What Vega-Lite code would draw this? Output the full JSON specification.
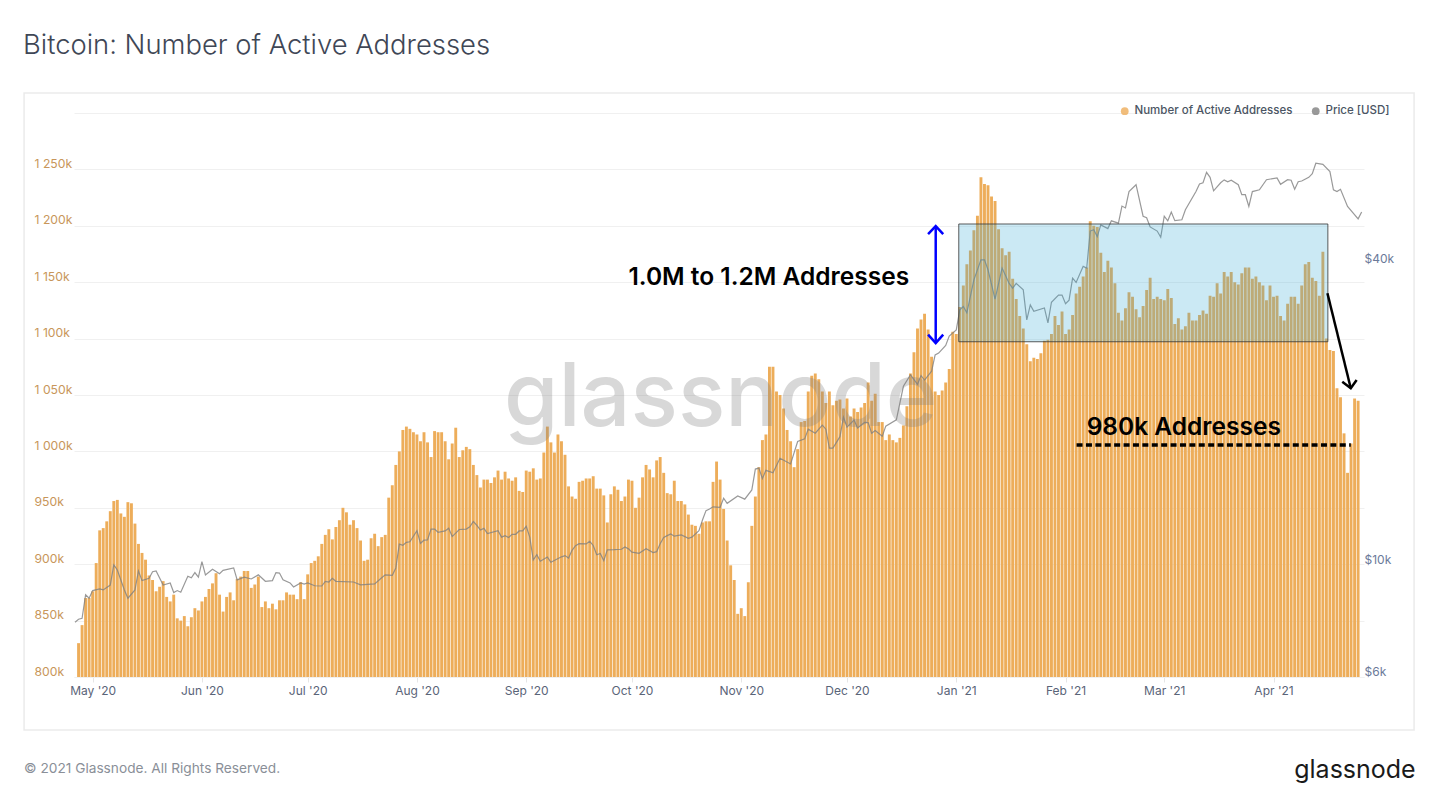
{
  "$schema": "https://vega.github.io/schema/vega-lite/v6.json",
  "width": 1290,
  "height": 564,
  "autosize": "none",
  "padding": {"left": 74, "top": 113, "right": 76, "bottom": 130},
  "background": "white",
  "title": {
    "text": "Bitcoin: Number of Active Addresses",
    "anchor": "start",
    "frame": "group",
    "font": "Inter",
    "fontSize": 27.4,
    "fontWeight": 300,
    "color": "#3f4756",
    "dx": -51,
    "offset": 33
  },
  "config": {"font": "Inter", "view": {"stroke": null}, "title": {"baseline": "alphabetic"}},
  "datasets": {
    "addresses": [
      {"date":"2020-04-27","n":830000},{"date":"2020-04-28","n":846000},{"date":"2020-04-29","n":870000},{"date":"2020-04-30","n":870000},
      {"date":"2020-05-01","n":876000},{"date":"2020-05-02","n":901000},{"date":"2020-05-03","n":930000},{"date":"2020-05-04","n":932000},{"date":"2020-05-05","n":938000},{"date":"2020-05-06","n":947000},{"date":"2020-05-07","n":956000},{"date":"2020-05-08","n":957000},{"date":"2020-05-09","n":945000},{"date":"2020-05-10","n":942000},{"date":"2020-05-11","n":955000},{"date":"2020-05-12","n":954000},{"date":"2020-05-13","n":936000},{"date":"2020-05-14","n":918000},{"date":"2020-05-15","n":910000},{"date":"2020-05-16","n":904000},{"date":"2020-05-17","n":890000},{"date":"2020-05-18","n":886000},{"date":"2020-05-19","n":876000},{"date":"2020-05-20","n":880000},{"date":"2020-05-21","n":885000},{"date":"2020-05-22","n":871000},{"date":"2020-05-23","n":867000},{"date":"2020-05-24","n":873000},{"date":"2020-05-25","n":852000},{"date":"2020-05-26","n":850000},{"date":"2020-05-27","n":854000},{"date":"2020-05-28","n":845000},{"date":"2020-05-29","n":853000},{"date":"2020-05-30","n":861000},{"date":"2020-05-31","n":859000},
      {"date":"2020-06-01","n":867000},{"date":"2020-06-02","n":871000},{"date":"2020-06-03","n":878000},{"date":"2020-06-04","n":883000},{"date":"2020-06-05","n":892000},{"date":"2020-06-06","n":873000},{"date":"2020-06-07","n":858000},{"date":"2020-06-08","n":871000},{"date":"2020-06-09","n":875000},{"date":"2020-06-10","n":868000},{"date":"2020-06-11","n":887000},{"date":"2020-06-12","n":889000},{"date":"2020-06-13","n":894000},{"date":"2020-06-14","n":894000},{"date":"2020-06-15","n":879000},{"date":"2020-06-16","n":882000},{"date":"2020-06-17","n":889000},{"date":"2020-06-18","n":862000},{"date":"2020-06-19","n":867000},{"date":"2020-06-20","n":861000},{"date":"2020-06-21","n":865000},{"date":"2020-06-22","n":860000},{"date":"2020-06-23","n":868000},{"date":"2020-06-24","n":868000},{"date":"2020-06-25","n":875000},{"date":"2020-06-26","n":873000},{"date":"2020-06-27","n":873000},{"date":"2020-06-28","n":869000},{"date":"2020-06-29","n":884000},{"date":"2020-06-30","n":869000},
      {"date":"2020-07-01","n":891000},{"date":"2020-07-02","n":901000},{"date":"2020-07-03","n":903000},{"date":"2020-07-04","n":907000},{"date":"2020-07-05","n":918000},{"date":"2020-07-06","n":926000},{"date":"2020-07-07","n":931000},{"date":"2020-07-08","n":922000},{"date":"2020-07-09","n":933000},{"date":"2020-07-10","n":939000},{"date":"2020-07-11","n":950000},{"date":"2020-07-12","n":946000},{"date":"2020-07-13","n":935000},{"date":"2020-07-14","n":939000},{"date":"2020-07-15","n":932000},{"date":"2020-07-16","n":921000},{"date":"2020-07-17","n":903000},{"date":"2020-07-18","n":904000},{"date":"2020-07-19","n":923000},{"date":"2020-07-20","n":927000},{"date":"2020-07-21","n":916000},{"date":"2020-07-22","n":924000},{"date":"2020-07-23","n":926000},{"date":"2020-07-24","n":959000},{"date":"2020-07-25","n":970000},{"date":"2020-07-26","n":988000},{"date":"2020-07-27","n":1000000},{"date":"2020-07-28","n":1019000},{"date":"2020-07-29","n":1022000},{"date":"2020-07-30","n":1020000},{"date":"2020-07-31","n":1017000},
      {"date":"2020-08-01","n":1015000},{"date":"2020-08-02","n":1009000},{"date":"2020-08-03","n":1017000},{"date":"2020-08-04","n":1008000},{"date":"2020-08-05","n":995000},{"date":"2020-08-06","n":1018000},{"date":"2020-08-07","n":1017000},{"date":"2020-08-08","n":1017000},{"date":"2020-08-09","n":1009000},{"date":"2020-08-10","n":993000},{"date":"2020-08-11","n":1007000},{"date":"2020-08-12","n":1021000},{"date":"2020-08-13","n":995000},{"date":"2020-08-14","n":1001000},{"date":"2020-08-15","n":1004000},{"date":"2020-08-16","n":1002000},{"date":"2020-08-17","n":988000},{"date":"2020-08-18","n":979000},{"date":"2020-08-19","n":968000},{"date":"2020-08-20","n":975000},{"date":"2020-08-21","n":975000},{"date":"2020-08-22","n":972000},{"date":"2020-08-23","n":977000},{"date":"2020-08-24","n":983000},{"date":"2020-08-25","n":975000},{"date":"2020-08-26","n":982000},{"date":"2020-08-27","n":976000},{"date":"2020-08-28","n":974000},{"date":"2020-08-29","n":977000},{"date":"2020-08-30","n":965000},{"date":"2020-08-31","n":964000},
      {"date":"2020-09-01","n":983000},{"date":"2020-09-02","n":982000},{"date":"2020-09-03","n":985000},{"date":"2020-09-04","n":975000},{"date":"2020-09-05","n":976000},{"date":"2020-09-06","n":999000},{"date":"2020-09-07","n":1022000},{"date":"2020-09-08","n":1008000},{"date":"2020-09-09","n":999000},{"date":"2020-09-10","n":1015000},{"date":"2020-09-11","n":1009000},{"date":"2020-09-12","n":997000},{"date":"2020-09-13","n":969000},{"date":"2020-09-14","n":960000},{"date":"2020-09-15","n":958000},{"date":"2020-09-16","n":973000},{"date":"2020-09-17","n":974000},{"date":"2020-09-18","n":976000},{"date":"2020-09-19","n":976000},{"date":"2020-09-20","n":978000},{"date":"2020-09-21","n":967000},{"date":"2020-09-22","n":967000},{"date":"2020-09-23","n":961000},{"date":"2020-09-24","n":937000},{"date":"2020-09-25","n":962000},{"date":"2020-09-26","n":969000},{"date":"2020-09-27","n":966000},{"date":"2020-09-28","n":956000},{"date":"2020-09-29","n":960000},{"date":"2020-09-30","n":975000},
      {"date":"2020-10-01","n":974000},{"date":"2020-10-02","n":950000},{"date":"2020-10-03","n":959000},{"date":"2020-10-04","n":977000},{"date":"2020-10-05","n":988000},{"date":"2020-10-06","n":984000},{"date":"2020-10-07","n":977000},{"date":"2020-10-08","n":992000},{"date":"2020-10-09","n":995000},{"date":"2020-10-10","n":981000},{"date":"2020-10-11","n":963000},{"date":"2020-10-12","n":962000},{"date":"2020-10-13","n":974000},{"date":"2020-10-14","n":956000},{"date":"2020-10-15","n":956000},{"date":"2020-10-16","n":953000},{"date":"2020-10-17","n":944000},{"date":"2020-10-18","n":935000},{"date":"2020-10-19","n":934000},{"date":"2020-10-20","n":927000},{"date":"2020-10-21","n":937000},{"date":"2020-10-22","n":938000},{"date":"2020-10-23","n":938000},{"date":"2020-10-24","n":973000},{"date":"2020-10-25","n":991000},{"date":"2020-10-26","n":975000},{"date":"2020-10-27","n":949000},{"date":"2020-10-28","n":921000},{"date":"2020-10-29","n":899000},{"date":"2020-10-30","n":886000},{"date":"2020-10-31","n":856000},
      {"date":"2020-11-01","n":861000},{"date":"2020-11-02","n":854000},{"date":"2020-11-03","n":884000},{"date":"2020-11-04","n":934000},{"date":"2020-11-05","n":960000},{"date":"2020-11-06","n":986000},{"date":"2020-11-07","n":1010000},{"date":"2020-11-08","n":1015000},{"date":"2020-11-09","n":1075000},{"date":"2020-11-10","n":1075000},{"date":"2020-11-11","n":1053000},{"date":"2020-11-12","n":1050000},{"date":"2020-11-13","n":1038000},{"date":"2020-11-14","n":1019000},{"date":"2020-11-15","n":1009000},{"date":"2020-11-16","n":986000},{"date":"2020-11-17","n":1002000},{"date":"2020-11-18","n":1026000},{"date":"2020-11-19","n":1027000},{"date":"2020-11-20","n":1053000},{"date":"2020-11-21","n":1067000},{"date":"2020-11-22","n":1069000},{"date":"2020-11-23","n":1064000},{"date":"2020-11-24","n":1053000},{"date":"2020-11-25","n":1043000},{"date":"2020-11-26","n":1053000},{"date":"2020-11-27","n":1041000},{"date":"2020-11-28","n":1045000},{"date":"2020-11-29","n":1046000},{"date":"2020-11-30","n":1038000},
      {"date":"2020-12-01","n":1047000},{"date":"2020-12-02","n":1031000},{"date":"2020-12-03","n":1038000},{"date":"2020-12-04","n":1035000},{"date":"2020-12-05","n":1039000},{"date":"2020-12-06","n":1043000},{"date":"2020-12-07","n":1061000},{"date":"2020-12-08","n":1045000},{"date":"2020-12-09","n":1051000},{"date":"2020-12-10","n":1026000},{"date":"2020-12-11","n":1026000},{"date":"2020-12-12","n":1010000},{"date":"2020-12-13","n":1015000},{"date":"2020-12-14","n":1010000},{"date":"2020-12-15","n":1008000},{"date":"2020-12-16","n":1012000},{"date":"2020-12-17","n":1023000},{"date":"2020-12-18","n":1040000},{"date":"2020-12-19","n":1069000},{"date":"2020-12-20","n":1088000},{"date":"2020-12-21","n":1109000},{"date":"2020-12-22","n":1117000},{"date":"2020-12-23","n":1122000},{"date":"2020-12-24","n":1108000},{"date":"2020-12-25","n":1084000},{"date":"2020-12-26","n":1053000},{"date":"2020-12-27","n":1050000},{"date":"2020-12-28","n":1054000},{"date":"2020-12-29","n":1061000},{"date":"2020-12-30","n":1073000},{"date":"2020-12-31","n":1106000},
      {"date":"2021-01-01","n":1104000},{"date":"2021-01-02","n":1128000},{"date":"2021-01-03","n":1147000},{"date":"2021-01-04","n":1166000},{"date":"2021-01-05","n":1178000},{"date":"2021-01-06","n":1196000},{"date":"2021-01-07","n":1209000},{"date":"2021-01-08","n":1243000},{"date":"2021-01-09","n":1237000},{"date":"2021-01-10","n":1236000},{"date":"2021-01-11","n":1226000},{"date":"2021-01-12","n":1222000},{"date":"2021-01-13","n":1197000},{"date":"2021-01-14","n":1180000},{"date":"2021-01-15","n":1174000},{"date":"2021-01-16","n":1177000},{"date":"2021-01-17","n":1153000},{"date":"2021-01-18","n":1135000},{"date":"2021-01-19","n":1120000},{"date":"2021-01-20","n":1109000},{"date":"2021-01-21","n":1095000},{"date":"2021-01-22","n":1080000},{"date":"2021-01-23","n":1083000},{"date":"2021-01-24","n":1082000},{"date":"2021-01-25","n":1087000},{"date":"2021-01-26","n":1098000},{"date":"2021-01-27","n":1099000},{"date":"2021-01-28","n":1104000},{"date":"2021-01-29","n":1120000},{"date":"2021-01-30","n":1112000},{"date":"2021-01-31","n":1124000},
      {"date":"2021-02-01","n":1104000},{"date":"2021-02-02","n":1108000},{"date":"2021-02-03","n":1121000},{"date":"2021-02-04","n":1140000},{"date":"2021-02-05","n":1146000},{"date":"2021-02-06","n":1155000},{"date":"2021-02-07","n":1163000},{"date":"2021-02-08","n":1204000},{"date":"2021-02-09","n":1200000},{"date":"2021-02-10","n":1199000},{"date":"2021-02-11","n":1176000},{"date":"2021-02-12","n":1159000},{"date":"2021-02-13","n":1169000},{"date":"2021-02-14","n":1163000},{"date":"2021-02-15","n":1149000},{"date":"2021-02-16","n":1123000},{"date":"2021-02-17","n":1116000},{"date":"2021-02-18","n":1127000},{"date":"2021-02-19","n":1141000},{"date":"2021-02-20","n":1137000},{"date":"2021-02-21","n":1126000},{"date":"2021-02-22","n":1119000},{"date":"2021-02-23","n":1129000},{"date":"2021-02-24","n":1143000},{"date":"2021-02-25","n":1154000},{"date":"2021-02-26","n":1135000},{"date":"2021-02-27","n":1137000},{"date":"2021-02-28","n":1135000},
      {"date":"2021-03-01","n":1134000},{"date":"2021-03-02","n":1144000},{"date":"2021-03-03","n":1136000},{"date":"2021-03-04","n":1113000},{"date":"2021-03-05","n":1118000},{"date":"2021-03-06","n":1108000},{"date":"2021-03-07","n":1111000},{"date":"2021-03-08","n":1123000},{"date":"2021-03-09","n":1116000},{"date":"2021-03-10","n":1116000},{"date":"2021-03-11","n":1121000},{"date":"2021-03-12","n":1125000},{"date":"2021-03-13","n":1122000},{"date":"2021-03-14","n":1138000},{"date":"2021-03-15","n":1137000},{"date":"2021-03-16","n":1149000},{"date":"2021-03-17","n":1140000},{"date":"2021-03-18","n":1159000},{"date":"2021-03-19","n":1155000},{"date":"2021-03-20","n":1159000},{"date":"2021-03-21","n":1150000},{"date":"2021-03-22","n":1148000},{"date":"2021-03-23","n":1158000},{"date":"2021-03-24","n":1163000},{"date":"2021-03-25","n":1163000},{"date":"2021-03-26","n":1153000},{"date":"2021-03-27","n":1155000},{"date":"2021-03-28","n":1150000},{"date":"2021-03-29","n":1147000},{"date":"2021-03-30","n":1134000},{"date":"2021-03-31","n":1147000},
      {"date":"2021-04-01","n":1137000},{"date":"2021-04-02","n":1138000},{"date":"2021-04-03","n":1120000},{"date":"2021-04-04","n":1116000},{"date":"2021-04-05","n":1131000},{"date":"2021-04-06","n":1137000},{"date":"2021-04-07","n":1137000},{"date":"2021-04-08","n":1131000},{"date":"2021-04-09","n":1147000},{"date":"2021-04-10","n":1166000},{"date":"2021-04-11","n":1168000},{"date":"2021-04-12","n":1154000},{"date":"2021-04-13","n":1151000},{"date":"2021-04-14","n":1138000},{"date":"2021-04-15","n":1177000},{"date":"2021-04-16","n":1100000},{"date":"2021-04-17","n":1090000},{"date":"2021-04-18","n":1089000},{"date":"2021-04-19","n":1056000},{"date":"2021-04-20","n":1048000},{"date":"2021-04-21","n":1016000},{"date":"2021-04-22","n":981000},{"date":"2021-04-23","n":1007000},{"date":"2021-04-24","n":1047000},{"date":"2021-04-25","n":1045000}
    ],
    "price": [
      {"date":"2020-04-26","p":7720},{"date":"2020-04-27","p":7825},{"date":"2020-04-28","p":7860},{"date":"2020-04-29","p":8760},{"date":"2020-04-30","p":8620},{"date":"2020-05-01","p":8930},{"date":"2020-05-03","p":9000},{"date":"2020-05-04","p":8956},{"date":"2020-05-06","p":9160},{"date":"2020-05-07","p":10050},{"date":"2020-05-08","p":9820},{"date":"2020-05-10","p":8956},{"date":"2020-05-11","p":8620},{"date":"2020-05-13","p":8956},{"date":"2020-05-14","p":9775},{"date":"2020-05-15","p":9350},{"date":"2020-05-17","p":9450},{"date":"2020-05-18","p":9740},{"date":"2020-05-19","p":9775},{"date":"2020-05-21","p":9160},{"date":"2020-05-23","p":9250},{"date":"2020-05-24","p":8850},{"date":"2020-05-25","p":8930},{"date":"2020-05-26","p":8860},{"date":"2020-05-28","p":9540},{"date":"2020-05-29","p":9470},{"date":"2020-05-30","p":9700},{"date":"2020-05-31","p":9500},
      {"date":"2020-06-01","p":10200},{"date":"2020-06-02","p":9600},{"date":"2020-06-04","p":9850},{"date":"2020-06-06","p":9650},{"date":"2020-06-07","p":9800},{"date":"2020-06-10","p":9910},{"date":"2020-06-11","p":9380},{"date":"2020-06-13","p":9500},{"date":"2020-06-15","p":9420},{"date":"2020-06-17","p":9600},{"date":"2020-06-19","p":9320},{"date":"2020-06-21","p":9350},{"date":"2020-06-22","p":9700},{"date":"2020-06-23","p":9680},{"date":"2020-06-24","p":9380},{"date":"2020-06-26","p":9250},{"date":"2020-06-27","p":9080},{"date":"2020-06-29","p":9250},{"date":"2020-06-30","p":9200},
      {"date":"2020-07-01","p":9250},{"date":"2020-07-03","p":9130},{"date":"2020-07-05","p":9120},{"date":"2020-07-06","p":9320},{"date":"2020-07-07","p":9290},{"date":"2020-07-08","p":9450},{"date":"2020-07-09","p":9320},{"date":"2020-07-14","p":9290},{"date":"2020-07-16","p":9170},{"date":"2020-07-20","p":9210},{"date":"2020-07-22","p":9470},{"date":"2020-07-23","p":9600},{"date":"2020-07-25","p":9580},{"date":"2020-07-26","p":9910},{"date":"2020-07-27","p":11060},{"date":"2020-07-28","p":11000},{"date":"2020-07-29","p":11150},{"date":"2020-07-30","p":11180},
      {"date":"2020-08-01","p":11760},{"date":"2020-08-02","p":11100},{"date":"2020-08-03","p":11260},{"date":"2020-08-04","p":11270},{"date":"2020-08-05","p":11850},{"date":"2020-08-06","p":11850},{"date":"2020-08-07","p":11680},{"date":"2020-08-09","p":11750},{"date":"2020-08-10","p":11900},{"date":"2020-08-11","p":11450},{"date":"2020-08-13","p":11830},{"date":"2020-08-15","p":11850},{"date":"2020-08-16","p":11980},{"date":"2020-08-17","p":12270},{"date":"2020-08-18","p":12050},{"date":"2020-08-19","p":11800},{"date":"2020-08-20","p":11890},{"date":"2020-08-21","p":11610},{"date":"2020-08-24","p":11760},{"date":"2020-08-25","p":11420},{"date":"2020-08-26","p":11500},{"date":"2020-08-27","p":11400},{"date":"2020-08-28","p":11570},{"date":"2020-08-29","p":11570},{"date":"2020-08-30","p":11750},{"date":"2020-08-31","p":11750},
      {"date":"2020-09-01","p":12000},{"date":"2020-09-02","p":11420},{"date":"2020-09-03","p":10280},{"date":"2020-09-04","p":10530},{"date":"2020-09-05","p":10220},{"date":"2020-09-07","p":10420},{"date":"2020-09-08","p":10170},{"date":"2020-09-11","p":10430},{"date":"2020-09-12","p":10490},{"date":"2020-09-13","p":10370},{"date":"2020-09-14","p":10750},{"date":"2020-09-15","p":10980},{"date":"2020-09-16","p":11080},{"date":"2020-09-18","p":11070},{"date":"2020-09-19","p":11200},{"date":"2020-09-20","p":10990},{"date":"2020-09-21","p":10530},{"date":"2020-09-22","p":10590},{"date":"2020-09-23","p":10250},{"date":"2020-09-24","p":10770},{"date":"2020-09-26","p":10780},{"date":"2020-09-28","p":10800},{"date":"2020-09-29","p":10910},{"date":"2020-09-30","p":10820},
      {"date":"2020-10-01","p":10660},{"date":"2020-10-03","p":10600},{"date":"2020-10-05","p":10830},{"date":"2020-10-07","p":10640},{"date":"2020-10-08","p":10680},{"date":"2020-10-09","p":11080},{"date":"2020-10-10","p":11400},{"date":"2020-10-11","p":11500},{"date":"2020-10-12","p":11590},{"date":"2020-10-13","p":11470},{"date":"2020-10-15","p":11540},{"date":"2020-10-17","p":11360},{"date":"2020-10-18","p":11420},{"date":"2020-10-20","p":11760},{"date":"2020-10-21","p":12360},{"date":"2020-10-22","p":12900},{"date":"2020-10-23","p":13000},{"date":"2020-10-24","p":13130},{"date":"2020-10-26","p":13100},{"date":"2020-10-27","p":13660},{"date":"2020-10-28","p":13340},{"date":"2020-10-31","p":13800},
      {"date":"2020-11-02","p":13600},{"date":"2020-11-04","p":14190},{"date":"2020-11-05","p":15620},{"date":"2020-11-06","p":15690},{"date":"2020-11-07","p":14950},{"date":"2020-11-08","p":15530},{"date":"2020-11-10","p":15350},{"date":"2020-11-12","p":16420},{"date":"2020-11-15","p":15990},{"date":"2020-11-17","p":17730},{"date":"2020-11-19","p":17950},{"date":"2020-11-20","p":18770},{"date":"2020-11-22","p":18420},{"date":"2020-11-24","p":19120},{"date":"2020-11-25","p":18770},{"date":"2020-11-26","p":17200},{"date":"2020-11-27","p":17200},{"date":"2020-11-29","p":18130},{"date":"2020-11-30","p":19840},
      {"date":"2020-12-01","p":18950},{"date":"2020-12-03","p":19570},{"date":"2020-12-04","p":18870},{"date":"2020-12-06","p":19370},{"date":"2020-12-07","p":19340},{"date":"2020-12-08","p":18420},{"date":"2020-12-09","p":18650},{"date":"2020-12-11","p":18160},{"date":"2020-12-12","p":19030},{"date":"2020-12-15","p":19590},{"date":"2020-12-17","p":22860},{"date":"2020-12-19","p":24100},{"date":"2020-12-21","p":23070},{"date":"2020-12-22","p":24010},{"date":"2020-12-23","p":23530},{"date":"2020-12-25","p":24500},{"date":"2020-12-26","p":26420},{"date":"2020-12-27","p":26640},{"date":"2020-12-29","p":27590},{"date":"2020-12-30","p":28800},
      {"date":"2021-01-01","p":29640},{"date":"2021-01-02","p":32500},{"date":"2021-01-03","p":33000},{"date":"2021-01-04","p":32060},{"date":"2021-01-06","p":37320},{"date":"2021-01-08","p":40920},{"date":"2021-01-09","p":40920},{"date":"2021-01-10","p":39080},{"date":"2021-01-12","p":34130},{"date":"2021-01-14","p":39400},{"date":"2021-01-16","p":36700},{"date":"2021-01-17","p":35900},{"date":"2021-01-18","p":36700},{"date":"2021-01-20","p":35640},{"date":"2021-01-21","p":31040},{"date":"2021-01-22","p":33250},{"date":"2021-01-23","p":32270},{"date":"2021-01-26","p":32780},{"date":"2021-01-27","p":30620},{"date":"2021-01-28","p":33660},{"date":"2021-01-30","p":34790},{"date":"2021-01-31","p":34790},
      {"date":"2021-02-01","p":33420},{"date":"2021-02-02","p":33990},{"date":"2021-02-03","p":37600},{"date":"2021-02-04","p":36870},{"date":"2021-02-06","p":39700},{"date":"2021-02-07","p":39400},{"date":"2021-02-08","p":46700},{"date":"2021-02-09","p":47000},{"date":"2021-02-10","p":45530},{"date":"2021-02-11","p":48050},{"date":"2021-02-13","p":47240},{"date":"2021-02-14","p":48950},{"date":"2021-02-16","p":48430},{"date":"2021-02-17","p":52400},{"date":"2021-02-18","p":51950},{"date":"2021-02-19","p":56000},{"date":"2021-02-21","p":57800},{"date":"2021-02-23","p":50000},{"date":"2021-02-24","p":49650},{"date":"2021-02-25","p":47600},{"date":"2021-02-27","p":46700},{"date":"2021-02-28","p":45400},
      {"date":"2021-03-01","p":50000},{"date":"2021-03-02","p":48950},{"date":"2021-03-03","p":50950},{"date":"2021-03-04","p":49000},{"date":"2021-03-06","p":49200},{"date":"2021-03-07","p":51520},{"date":"2021-03-10","p":56000},{"date":"2021-03-11","p":58000},{"date":"2021-03-12","p":58320},{"date":"2021-03-13","p":61200},{"date":"2021-03-14","p":59800},{"date":"2021-03-15","p":56200},{"date":"2021-03-17","p":58320},{"date":"2021-03-18","p":59100},{"date":"2021-03-19","p":58600},{"date":"2021-03-20","p":59000},{"date":"2021-03-22","p":57800},{"date":"2021-03-23","p":55200},{"date":"2021-03-24","p":55200},{"date":"2021-03-25","p":52300},{"date":"2021-03-26","p":56000},{"date":"2021-03-28","p":56480},{"date":"2021-03-30","p":59140},
      {"date":"2021-04-02","p":59650},{"date":"2021-04-03","p":57900},{"date":"2021-04-05","p":59140},{"date":"2021-04-06","p":59000},{"date":"2021-04-07","p":56600},{"date":"2021-04-08","p":58600},{"date":"2021-04-09","p":58800},{"date":"2021-04-11","p":59800},{"date":"2021-04-12","p":60800},{"date":"2021-04-13","p":63800},{"date":"2021-04-15","p":63500},{"date":"2021-04-17","p":61400},{"date":"2021-04-18","p":56480},{"date":"2021-04-19","p":56000},{"date":"2021-04-20","p":56600},{"date":"2021-04-22","p":52300},{"date":"2021-04-25","p":49400},{"date":"2021-04-26","p":51000}
    ],
    "arrows": [
      {"id":"blue-shaft","o":1,"x":"2020-12-26T04:00:00Z","y":1199800,"c":"blue"},
      {"id":"blue-shaft","o":2,"x":"2020-12-26T04:00:00Z","y":1096000,"c":"blue"},
      {"id":"blue-top","o":1,"x":"2020-12-24T00:00:00Z","y":1192700,"c":"blue"},
      {"id":"blue-top","o":2,"x":"2020-12-26T04:00:00Z","y":1199800,"c":"blue"},
      {"id":"blue-top","o":3,"x":"2020-12-28T07:00:00Z","y":1192700,"c":"blue"},
      {"id":"blue-bottom","o":1,"x":"2020-12-24T00:00:00Z","y":1103500,"c":"blue"},
      {"id":"blue-bottom","o":2,"x":"2020-12-26T04:00:00Z","y":1096000,"c":"blue"},
      {"id":"blue-bottom","o":3,"x":"2020-12-28T07:00:00Z","y":1103500,"c":"blue"},
      {"id":"black-shaft","o":1,"x":"2021-04-16T07:00:00Z","y":1140200,"c":"black"},
      {"id":"black-shaft","o":2,"x":"2021-04-22T22:00:00Z","y":1056000,"c":"black"},
      {"id":"black-head","o":1,"x":"2021-04-20T12:00:00Z","y":1061800,"c":"black"},
      {"id":"black-head","o":2,"x":"2021-04-22T22:00:00Z","y":1056000,"c":"black"},
      {"id":"black-head","o":3,"x":"2021-04-24T14:00:00Z","y":1063300,"c":"black"}
    ]
  },
  "layer": [
    {
      "data": {"name": "addresses"},
      "mark": {"type": "bar", "size": 2.9},
      "encoding": {
        "x": {
          "field": "date",
          "type": "temporal",
          "title": null,
          "scale": {
            "type": "utc",
            "nice": false,
            "padding": 0,
            "domain": [
              {"year": 2020, "month": 4, "date": 25, "hours": 17, "utc": true},
              {"year": 2021, "month": 4, "date": 26, "hours": 16, "utc": true}
            ]
          },
          "axis": {
            "tickCount": {"interval": "month", "step": 1},
            "labelExpr": "utcFormat(datum.value, \"%b '%y\")",
            "grid": false,
            "domainColor": "#f0f0f0",
            "tickColor": "#e6e6e6",
            "tickSize": 5,
            "labelFont": "Inter",
            "labelFontSize": 12,
            "labelColor": "#5a6478",
            "labelPadding": 3,
            "labelOverlap": false,
            "labelFlush": false
          }
        },
        "y": {
          "field": "n",
          "type": "quantitative",
          "title": null,
          "scale": {"domain": [800000, 1300000], "zero": false, "nice": false},
          "axis": {
            "values": [800000, 850000, 900000, 950000, 1000000, 1050000, 1100000, 1150000, 1200000, 1250000, 1300000],
            "labelExpr": "datum.value >= 1300000 ? '' : replace(format(datum.value / 1000, ','), ',', ' ') + 'k'",
            "grid": true,
            "gridColor": "#f0f0f0",
            "gridWidth": 1,
            "domain": false,
            "ticks": false,
            "tickSize": 0,
            "labelAlign": "left",
            "labelBaseline": "middle",
            "labelPadding": 40,
            "labelOffset": -6,
            "labelFont": "Inter",
            "labelFontSize": 12.2,
            "labelColor": "#c8965a",
            "labelOverlap": false,
            "labelBound": false
          }
        },
        "y2": {"datum": 800000},
        "color": {
          "datum": "Number of Active Addresses",
          "scale": {"domain": ["Number of Active Addresses", "Price [USD]"], "range": ["#edad5a", "#7f7f7f"]},
          "legend": {
            "title": null,
            "orient": "none",
            "legendX": 1045,
            "legendY": -8,
            "direction": "horizontal",
            "symbolType": "circle",
            "symbolSize": 60,
            "symbolStrokeWidth": 0,
            "symbolOpacity": 1,
            "columnPadding": 17,
            "labelFont": "Inter",
            "labelFontSize": 11.5,
            "labelFontWeight": 500,
            "labelColor": "#4b5563",
            "labelOffset": 4
          }
        }
      }
    },
    {
      "data": {"name": "price"},
      "mark": {"type": "line", "strokeWidth": 1.2, "opacity": 0.8, "interpolate": "linear"},
      "encoding": {
        "x": {"field": "date", "type": "temporal"},
        "y": {
          "field": "p",
          "type": "quantitative",
          "title": null,
          "scale": {"type": "log", "domain": [6000, 80400], "nice": false},
          "axis": {
            "orient": "right",
            "values": [6000, 10000, 40000],
            "labelExpr": "'$' + datum.value / 1000 + 'k'",
            "grid": false,
            "domain": false,
            "ticks": false,
            "tickSize": 0,
            "labelPadding": 0,
            "labelOffset": -6,
            "labelFont": "Inter",
            "labelFontSize": 12,
            "labelColor": "#6b7a99",
            "labelOverlap": false,
            "labelBound": false
          }
        },
        "color": {"datum": "Price [USD]"}
      }
    },
    {
      "encoding": {
        "y": {"type": "quantitative", "title": null, "axis": null, "scale": {"domain": [800000, 1300000], "zero": false, "nice": false}}
      },
      "layer": [
        {
          "data": {"values": [{"x": "2021-01-01T17:00:00Z", "x2": "2021-04-16T10:00:00Z", "y": 1201600, "y2": 1097200}]},
          "mark": {"type": "rect", "fill": "#30a8d4", "fillOpacity": 0.25, "stroke": "#333333", "strokeOpacity": 0.8, "strokeWidth": 1},
          "encoding": {
            "x": {"field": "x", "type": "temporal"},
            "x2": {"field": "x2"},
            "y": {"field": "y"},
            "y2": {"field": "y2"}
          }
        },
        {
          "data": {"values": [{"x0": "2020-04-11T13:00:00Z", "x2": "2021-05-10T21:00:00Z", "y": 1317700, "y2": 753000}]},
          "mark": {"type": "rect", "fillOpacity": 0, "fill": "white", "stroke": "#ebebeb", "strokeWidth": 1.5},
          "encoding": {
            "x": {"field": "x0", "type": "temporal"},
            "x2": {"field": "x2"},
            "y": {"field": "y"},
            "y2": {"field": "y2"}
          }
        },
        {
          "data": {"values": [{"x": "2021-02-04T03:00:00Z", "y": 1005700}, {"x": "2021-04-22T22:00:00Z", "y": 1005700}]},
          "mark": {"type": "line", "color": "black", "strokeWidth": 3.5, "strokeDash": [6, 3.4]},
          "encoding": {
            "x": {"field": "x", "type": "temporal"},
            "y": {"field": "y"}
          }
        },
        {
          "data": {"name": "arrows"},
          "transform": [{"filter": "datum.c === 'blue'"}],
          "mark": {"type": "line", "color": "#0000ff", "strokeWidth": 2.5},
          "encoding": {
            "x": {"field": "x", "type": "temporal"},
            "y": {"field": "y"},
            "detail": {"field": "id"},
            "order": {"field": "o"}
          }
        },
        {
          "data": {"name": "arrows"},
          "transform": [{"filter": "datum.c === 'black'"}],
          "mark": {"type": "line", "color": "black", "strokeWidth": 2.5},
          "encoding": {
            "x": {"field": "x", "type": "temporal"},
            "y": {"field": "y"},
            "detail": {"field": "id"},
            "order": {"field": "o"}
          }
        },
        {
          "data": {"values": [
            {"x": "2020-09-30T00:00:00Z", "y": 1153700, "t": "1.0M to 1.2M Addresses"},
            {"x": "2021-02-07T00:00:00Z", "y": 1020700, "t": "980k Addresses"}
          ]},
          "mark": {"type": "text", "align": "left", "baseline": "middle", "font": "Inter", "fontSize": 24.5, "fontWeight": 600, "color": "black"},
          "encoding": {
            "x": {"field": "x", "type": "temporal"},
            "y": {"field": "y"},
            "text": {"field": "t"}
          }
        },
        {
          "data": {"values": [{"x": "2020-10-26T04:00:00Z", "y": 1045600, "t": "glassnode"}]},
          "mark": {"type": "text", "align": "center", "baseline": "middle", "font": "Inter", "fontSize": 88, "fontWeight": 500, "color": "#808080", "opacity": 0.3},
          "encoding": {
            "x": {"field": "x", "type": "temporal"},
            "y": {"field": "y"},
            "text": {"field": "t"}
          }
        },
        {
          "data": {"values": [{"x": "2020-04-11T13:00:00Z", "y": 718400, "t": "© 2021 Glassnode. All Rights Reserved."}]},
          "mark": {"type": "text", "align": "left", "baseline": "middle", "font": "Inter", "fontSize": 13.7, "color": "#8a8f98"},
          "encoding": {
            "x": {"field": "x", "type": "temporal"},
            "y": {"field": "y"},
            "text": {"field": "t"}
          }
        },
        {
          "data": {"values": [{"x": "2021-05-11T08:00:00Z", "y": 717600, "t": "glassnode"}]},
          "mark": {"type": "text", "align": "right", "baseline": "middle", "font": "Inter", "fontSize": 25, "fontWeight": 400, "color": "#1a1a1a"},
          "encoding": {
            "x": {"field": "x", "type": "temporal"},
            "y": {"field": "y"},
            "text": {"field": "t"}
          }
        }
      ]
    }
  ],
  "resolve": {"scale": {"y": "independent"}}
}
